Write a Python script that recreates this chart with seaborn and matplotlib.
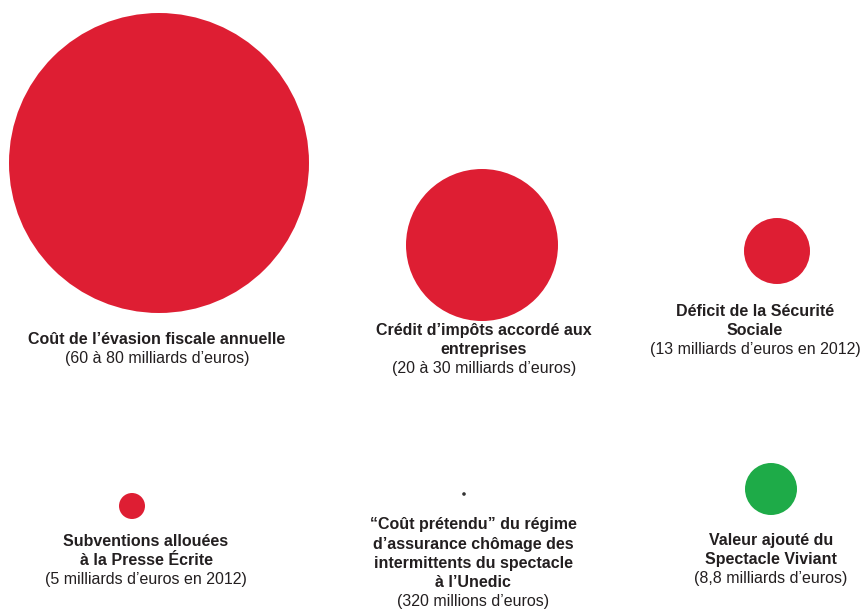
import pandas as pd
import seaborn as sns
import matplotlib.pyplot as plt

# the six items, amounts in billions of euros
postes = ['evasion', 'credit', 'secu', 'presse', 'intermittents', 'spectacle']
titres = [
    'Coût de l\u2019évasion fiscale annuelle',
    'Crédit d\u2019impôts accordé aux\nentreprises',
    'Déficit de la Sécurité\nSociale',
    'Subventions allouées\nà la Presse Écrite',
    '\u201cCoût prétendu\u201d du régime\nd\u2019assurance chômage des\nintermittents du spectacle\nà l\u2019Unedic',
    'Valeur ajouté du\nSpectacle Viviant',
]
sous_titres = [
    '(60 à 80 milliards d\u2019euros)',
    '(20 à 30 milliards d\u2019euros)',
    '(13 milliards d\u2019euros en 2012)',
    '(5 milliards d\u2019euros en 2012)',
    '(320 millions d\u2019euros)',
    '(8,8 milliards d\u2019euros)',
]
montants = [70, 25, 13, 5, 0.32, 8.8]
# bubble radius as drawn in the original picture (pixels)
rayons = [150, 76, 33, 13, 1.8, 26]
couleurs = ['#de1e33', '#de1e33', '#de1e33', '#de1e33', '#333333', '#1eab48']

# layout of the infographic (pixel grid)
cx = [159, 482, 777, 132, 464, 771]
cy = [163, 245, 251, 506, 494, 489]
tx = [157, 484, 755, 146, 473, 771]
ty = [339, 330, 311, 541, 525, 540]

df = pd.DataFrame({'poste': postes, 'montant': montants, 'rayon': rayons,
                   'x': cx, 'y': cy})

plt.rcParams['font.family'] = ['Liberation Sans', 'DejaVu Sans']
fig = plt.figure(figsize=(8.61, 6.09), dpi=100)
ax = fig.add_axes([0, 0, 1, 1])

# marker area in points^2 from the pixel radius
df['s'] = (2 * df['rayon'] * 72 / 100) ** 2
sns.scatterplot(data=df, x='x', y='y', hue='poste', palette=couleurs,
                s=df['s'], linewidth=0, legend=False, ax=ax)

pas = 19.2
for i in range(len(postes)):
    lignes = titres[i].split('\n')
    for k, ligne in enumerate(lignes):
        ax.text(tx[i], ty[i] + k * pas, ligne, ha='center', va='center',
                fontsize=11.5, fontweight='bold', color='#231f20')
    ax.text(tx[i], ty[i] + len(lignes) * pas, sous_titres[i], ha='center',
            va='center', fontsize=11.5, color='#231f20')

ax.set_xlim(0, 861)
ax.set_ylim(609, 0)
ax.axis('off')
fig.savefig('out.png', dpi=100)
